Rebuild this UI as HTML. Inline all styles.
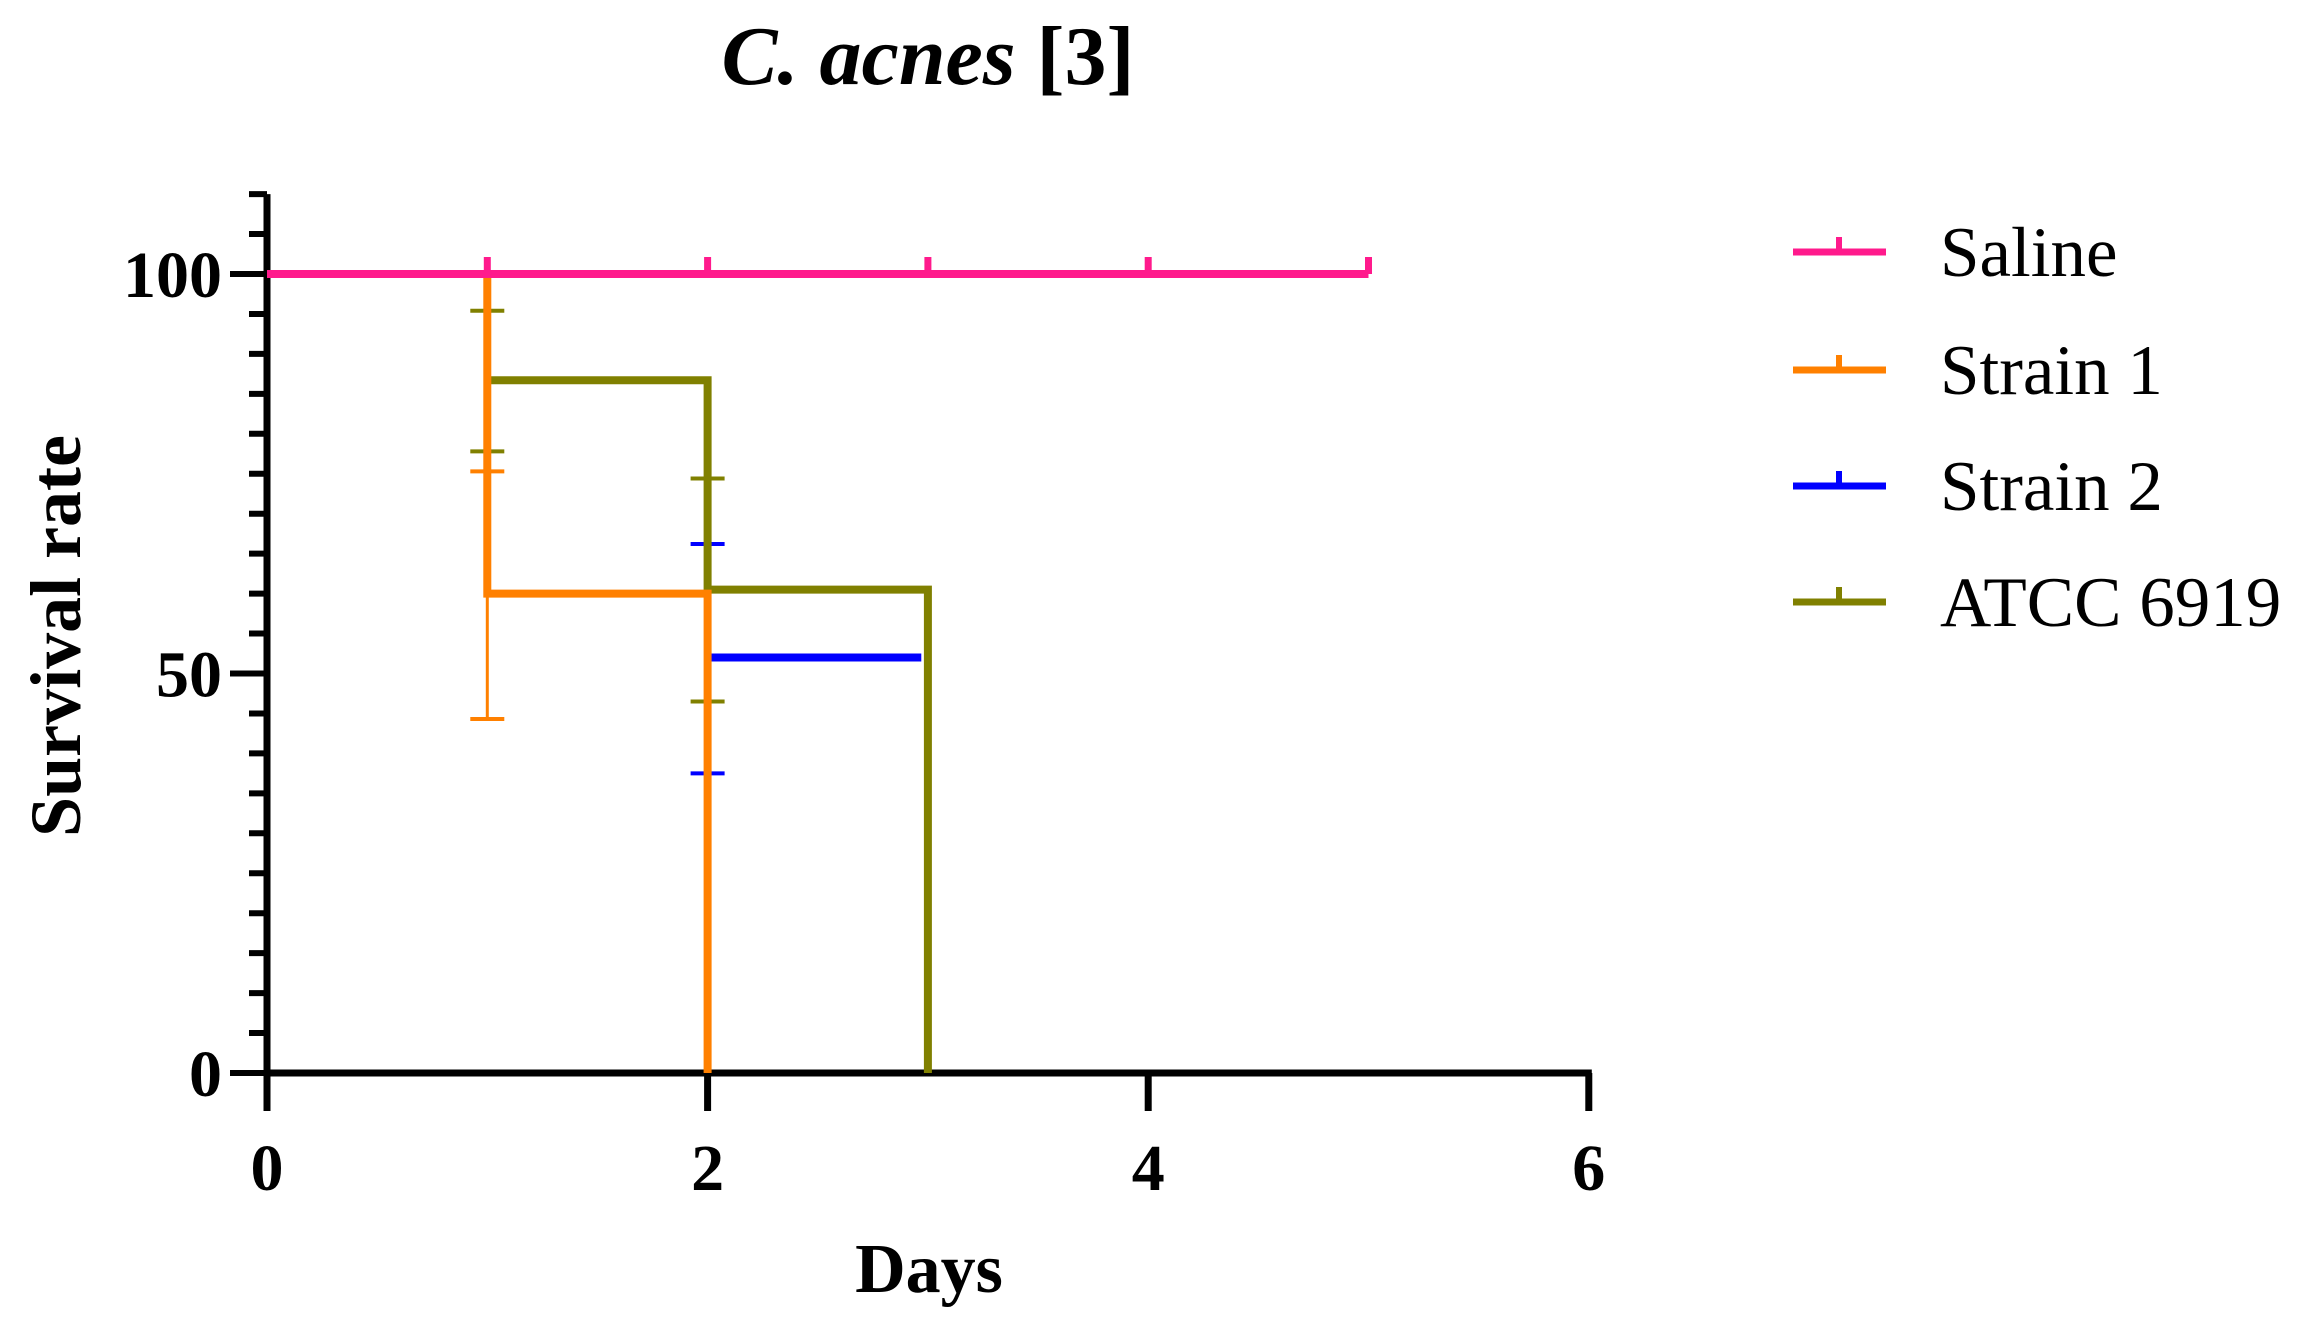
<!DOCTYPE html>
<html><head><meta charset="utf-8"><style>
html,body{margin:0;padding:0;background:#fff;}
svg{display:block;font-family:"Liberation Serif","Times New Roman",serif;}
</style></head><body>
<svg id="chart" width="2301" height="1339" viewBox="0 0 2301 1339" xmlns="http://www.w3.org/2000/svg">
<text x="928" y="84" font-size="84" font-weight="bold" text-anchor="middle"><tspan font-style="italic">C. acnes</tspan> [3]</text>
<text transform="translate(80,636) rotate(-90)" font-size="72" font-weight="bold" text-anchor="middle">Survival rate</text>
<text x="929" y="1292" font-size="70" font-weight="bold" text-anchor="middle">Days</text>
<g id="axes"></g>
<g id="series"></g>
<g id="legend"></g>
</svg>
<script>
const seriesNames = ["Saline", "Strain 1", "Strain 2", "ATCC 6919"];
const seriesColors = ["#FF1A8C", "#FF8000", "#0000FF", "#808000"];
// step curves: [day, survival]
const salineSteps = [[0,100],[5,100]];
const strain1Steps = [[0,100],[1,60],[2,0]];
const strain2Steps = [[2,52],[2.97,52]];
const atccSteps = [[1,86.7],[2,60.5],[3,0]];
const salineCensor = [1,2,3,4,5];
// error bars: [day, lower, upper]
const strain1Err = [[1,44.3,75.3]];
const strain2Err = [[2,37.5,66.2]];
const atccErr = [[1,77.8,95.4],[2,46.5,74.4]];
const xTicks = [0,2,4,6];
const yTicks = [0,50,100];

const NS = "http://www.w3.org/2000/svg";
const X0 = 267, XPER = 220.3, Y0 = 1073, YPER = 7.99;
const xs = d => X0 + d * XPER;
const ys = v => Y0 - v * YPER;
function mk(parent, tag, attrs) {
  const e = document.createElementNS(NS, tag);
  for (const k in attrs) e.setAttribute(k, attrs[k]);
  parent.appendChild(e);
  return e;
}
const axes = document.getElementById('axes');
const series = document.getElementById('series');
const legend = document.getElementById('legend');

let e;
e = mk(axes, 'line', {x1: X0, y1: ys(110), x2: X0, y2: Y0 + 3, stroke: '#000', 'stroke-width': 7});


e = mk(axes, 'line', {x1: X0 - 3, y1: Y0, x2: xs(6) + 3, y2: Y0, stroke: '#000', 'stroke-width': 7});


for (let v = 0; v <= 110; v += 5) {
  const major = yTicks.includes(v);
  e = mk(axes, 'line', {x1: X0 - (major ? 37 : 18), y1: ys(v), x2: X0, y2: ys(v), stroke: '#000', 'stroke-width': 6});
  
  
}
yTicks.forEach(v => {
  e = mk(axes, 'text', {x: 222, y: ys(v) + 23, 'font-size': 66, 'font-weight': 'bold', 'text-anchor': 'end'});
  e.textContent = v;
  
  
});
xTicks.forEach(d => {
  e = mk(axes, 'line', {x1: xs(d), y1: Y0, x2: xs(d), y2: Y0 + 38, stroke: '#000', 'stroke-width': 7});
  
  
  e = mk(axes, 'text', {x: xs(d), y: 1190, 'font-size': 66, 'font-weight': 'bold', 'text-anchor': 'middle'});
  e.textContent = d;
  
  
});

function stepPath(pts) {
  let d = '';
  pts.forEach((p, i) => {
    if (i === 0) d += 'M' + xs(p[0]) + ' ' + ys(p[1]);
    else d += ' H' + xs(p[0]) + ' V' + ys(p[1]);
  });
  return d;
}
function drawErr(errs, color) {
  errs.forEach(r => {
    const x = xs(r[0]);
    e = mk(series, 'line', {x1: x, y1: ys(r[1]), x2: x, y2: ys(r[2]), stroke: color, 'stroke-width': 3});
    
    
    [r[1], r[2]].forEach(v => {
      e = mk(series, 'line', {x1: x - 17, y1: ys(v), x2: x + 17, y2: ys(v), stroke: color, 'stroke-width': 4});
      
      
    });
  });
}
drawErr(strain1Err, seriesColors[1]);
drawErr(strain2Err, seriesColors[2]);
drawErr(atccErr, seriesColors[3]);

e = mk(series, 'path', {d: stepPath(strain2Steps), fill: 'none', stroke: seriesColors[2], 'stroke-width': 8});


e = mk(series, 'path', {d: stepPath(atccSteps), fill: 'none', stroke: seriesColors[3], 'stroke-width': 8});


e = mk(series, 'path', {d: stepPath(strain1Steps), fill: 'none', stroke: seriesColors[1], 'stroke-width': 8});


e = mk(series, 'path', {d: stepPath(salineSteps), fill: 'none', stroke: seriesColors[0], 'stroke-width': 8});


salineCensor.forEach(d => {
  const y = ys(salineSteps[salineSteps.length - 1][1]);
  e = mk(series, 'line', {x1: xs(d), y1: y, x2: xs(d), y2: y - 17, stroke: seriesColors[0], 'stroke-width': 7});
  
  
});

const legendY = [252, 370, 486, 602];
seriesNames.forEach((n, i) => {
  const y = legendY[i];
  const g = mk(legend, 'g', {});
  
  
  mk(g, 'line', {x1: 1793, y1: y, x2: 1886, y2: y, stroke: seriesColors[i], 'stroke-width': 7});
  mk(g, 'line', {x1: 1839, y1: y, x2: 1839, y2: y - 15, stroke: seriesColors[i], 'stroke-width': 6});
  const t = mk(g, 'text', {x: 1940, y: y + 24, 'font-size': 71});
  t.textContent = n;
  
  
});
</script>
</body></html>
